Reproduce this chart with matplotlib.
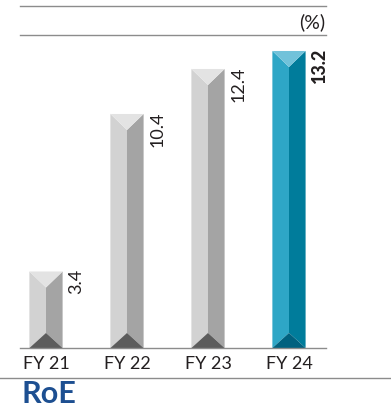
import matplotlib
matplotlib.use("Agg")
import matplotlib.pyplot as plt
from matplotlib.patches import Polygon
from matplotlib.lines import Line2D

# RoE by fiscal year (%)
years = ["FY 21", "FY 22", "FY 23", "FY 24"]
roe = [3.4, 10.4, 12.4, 13.2]
labels = ["3.4", "10.4", "12.4", "13.2"]

INK = "#231f20"
RULE = "#8c8c8c"
TITLE = "#1d4f91"
# faces of the prism bars: top cap, left face, right face, bottom cap
GREY = ("#e3e3e3", "#d2d2d2", "#a4a4a4", "#5c5c5c")
BLUE = ("#71c2da", "#2ea6c6", "#007c9b", "#00617f")

plt.rcParams["font.family"] = ["Lato", "DejaVu Sans"]

W, H = 391, 411
fig = plt.figure(figsize=(W / 100, H / 100), dpi=100)
ax = fig.add_axes([20 / W, (H - 348) / H, 306 / W, 313 / H])

ax.set_xlim(-0.321, 3.457)
ax.set_ylim(0, 13.91)

bw = 0.41      # bar width (data units)
top_h = 0.71   # height of the top triangle
bot_h = 0.67   # height of the bottom triangle

for i, (v, lab) in enumerate(zip(roe, labels)):
    last = i == len(roe) - 1
    c_top, c_left, c_right, c_bot = BLUE if last else GREY
    l, r, m = i - bw / 2, i + bw / 2, i
    ax.add_patch(Polygon([(l, 0), (l, v), (m, v - top_h), (m, bot_h)],
                         closed=True, fc=c_left, ec="none"))
    ax.add_patch(Polygon([(r, 0), (r, v), (m, v - top_h), (m, bot_h)],
                         closed=True, fc=c_right, ec="none"))
    ax.add_patch(Polygon([(l, v), (r, v), (m, v - top_h)],
                         closed=True, fc=c_top, ec="none"))
    ax.add_patch(Polygon([(l, 0), (r, 0), (m, bot_h)],
                         closed=True, fc=c_bot, ec="none"))
    ax.annotate(lab, xy=(r, v), xytext=(4, 2), textcoords="offset points",
                rotation=90, ha="left", va="top", fontsize=13, color=INK,
                fontweight="black" if last else "normal")

ax.set_xticks(range(len(years)))
ax.set_xticklabels(years, fontsize=13, color=INK)
ax.tick_params(axis="x", length=0, pad=6)
ax.set_yticks([])
for s in ("left", "right"):
    ax.spines[s].set_visible(False)
for s in ("top", "bottom"):
    ax.spines[s].set_color(RULE)
    ax.spines[s].set_linewidth(1.0)

# header rule and unit
fig.add_artist(Line2D([20 / W, 326 / W], [(H - 6) / H] * 2, color=RULE, lw=1.0))
fig.text(325 / W, (H - 22) / H, "(%)", ha="right", va="center",
         fontsize=14, color=INK)

# footer rule and title
fig.add_artist(Line2D([0, 1], [(H - 378) / H] * 2, color=RULE, lw=1.0))
fig.text(21 / W, (H - 394) / H, "RoE", ha="left", va="center",
         fontsize=22, fontweight="bold", color=TITLE)

fig.savefig("out.png", dpi=100)
